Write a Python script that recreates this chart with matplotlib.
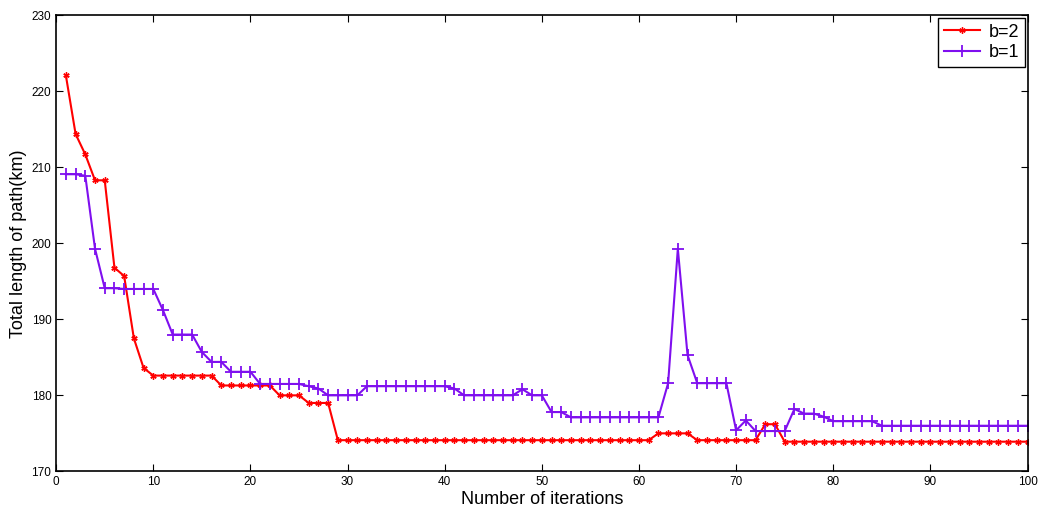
import matplotlib
matplotlib.use('Agg')
import matplotlib.pyplot as plt

plt.rcParams['font.family'] = ['Liberation Sans', 'DejaVu Sans']

iterations = list(range(1, 101))

# b=2 (red)
b2 = ([222.1, 214.4, 211.7, 208.3, 208.3, 196.8, 195.7, 187.5, 183.6, 182.6]
      + [182.6] * 6
      + [181.3] * 6
      + [180.0] * 3
      + [179.0] * 3
      + [174.1] * 33
      + [175.0] * 4
      + [174.1] * 7
      + [176.2, 176.2]
      + [173.9] * 26)

# b=1 (purple)
b1 = ([209.1, 209.1, 208.9, 199.3, 194.1, 194.1, 194.0, 194.0, 194.0, 194.0,
       191.2, 188.0, 188.0, 188.0, 185.7, 184.4, 184.4, 183.1, 183.1, 183.1]
      + [181.5] * 5
      + [181.2, 180.9]
      + [180.0] * 4
      + [181.2] * 9
      + [180.9]
      + [180.0] * 6
      + [180.8, 180.0, 180.0, 177.8, 177.8]
      + [177.1] * 10
      + [181.6, 199.3, 185.3]
      + [181.6] * 4
      + [175.4, 176.7, 175.3, 175.3, 175.3, 175.3, 178.2, 177.6, 177.6, 177.2]
      + [176.6] * 5
      + [176.0] * 16)

fig = plt.figure(figsize=(10.4, 5.14), dpi=100)
ax = fig.add_axes([0.054, 0.083, 0.934, 0.887])

ax.plot(iterations, b2, color='#ff0000', marker=(6, 2, 0), markersize=4.5,
        linewidth=1.5, label='b=2')
ax.plot(iterations, b1, color='#7f0fef', marker='+', markersize=8,
        markeredgewidth=1.3, linewidth=1.5, label='b=1')

ax.set_xlim(0, 100)
ax.set_ylim(170, 230)
ax.set_xticks(range(0, 101, 10))
ax.set_yticks(range(170, 231, 10))
ax.tick_params(direction='in', top=True, right=True, labelsize=8.5, length=5)
for s in ax.spines.values():
    s.set_linewidth(1.2)

ax.set_xlabel('Number of iterations', fontsize=13, labelpad=2)
ax.set_ylabel('Total length of path(km)', fontsize=13, labelpad=3)

leg = ax.legend(loc='upper right', fontsize=13, fancybox=False, framealpha=1,
                edgecolor='black', borderaxespad=0.15, handlelength=2.0,
                handletextpad=0.5, labelspacing=0.2, borderpad=0.3)
leg.get_frame().set_linewidth(1.0)

fig.savefig('out.png', dpi=100)
